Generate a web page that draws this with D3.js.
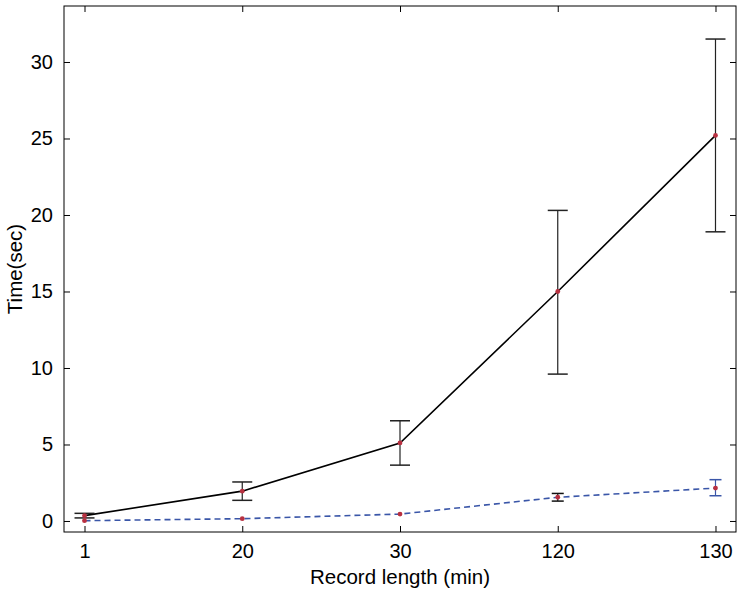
<!DOCTYPE html>
<html>
<head>
<meta charset="utf-8">
<script src="https://cdn.jsdelivr.net/npm/d3@7"></script>
<style>
  body { margin: 0; background: #fff; }
  text { font-family: "Liberation Sans", Arial, sans-serif; }
</style>
</head>
<body>
<script>
// record lengths (x categories)
const categories = ["1", "20", "30", "120", "130"];

// solid black series: mean, lower, upper
const slowMean = [0.35, 1.95, 5.1, 15.0, 25.2];
const slowLow  = [0.2, 1.35, 3.65, 9.6, 18.9];
const slowHigh = [0.5, 2.55, 6.55, 20.3, 31.5];

// dashed blue series
const fastMean = [0.02, 0.15, 0.45, 1.55, 2.15];
const fastLow  = [null, null, null, 1.3, 1.65];
const fastHigh = [null, null, null, 1.8, 2.7];

const yTicks = [0, 5, 10, 15, 20, 25, 30];

const width = 743, height = 593;
const mLeft = 64, mRight = 736, mTop = 6, mBottom = 532;

const svg = d3.select("body").append("svg")
    .attr("width", width)
    .attr("height", height);

const x = d3.scalePoint()
    .domain(categories)
    .range([mLeft, mRight])
    .padding(0.13);

const y = d3.scaleLinear()
    .domain([-0.72, 33.66])
    .range([mBottom, mTop]);

// frame
svg.append("rect")
    .attr("x", mLeft).attr("y", mTop)
    .attr("width", mRight - mLeft).attr("height", mBottom - mTop)
    .attr("fill", "none").attr("stroke", "#000").attr("stroke-width", 1);

// axes with inward ticks
const tickLen = 6;
const xAxis = svg.append("g").attr("transform", `translate(0,${mBottom})`)
    .call(d3.axisBottom(x).tickSize(-tickLen).tickPadding(12));
const xTop = svg.append("g").attr("transform", `translate(0,${mTop})`)
    .call(d3.axisTop(x).tickSize(-tickLen).tickFormat(""));
const yAxis = svg.append("g").attr("transform", `translate(${mLeft},0)`)
    .call(d3.axisLeft(y).tickValues(yTicks).tickSize(-tickLen).tickPadding(11));
const yRight = svg.append("g").attr("transform", `translate(${mRight},0)`)
    .call(d3.axisRight(y).tickValues(yTicks).tickSize(-tickLen).tickFormat(""));

[xAxis, xTop, yAxis, yRight].forEach(g => {
    g.select(".domain").remove();
    g.attr("font-size", 20);
    g.selectAll("line").attr("stroke", "#000");
    g.selectAll("text").attr("fill", "#000")
        .style("font-family", "Liberation Sans, Arial, sans-serif");
});

const line = d3.line()
    .x((d, i) => x(categories[i]))
    .y(d => y(d));

// error bars
const drawErr = function(lo, hi, color, cap) {
    categories.forEach((c, i) => {
        if (lo[i] == null) return;
        const cx = x(c);
        const g = svg.append("g").attr("stroke", color).attr("stroke-width", 1.5);
        g.append("line").attr("x1", cx).attr("x2", cx)
            .attr("y1", y(lo[i])).attr("y2", y(hi[i])).attr("stroke-width", 1.2);
        g.append("line").attr("x1", cx - cap).attr("x2", cx + cap)
            .attr("y1", y(lo[i])).attr("y2", y(lo[i]));
        g.append("line").attr("x1", cx - cap).attr("x2", cx + cap)
            .attr("y1", y(hi[i])).attr("y2", y(hi[i]));
    });
};

svg.append("path").datum(fastMean)
    .attr("d", line)
    .attr("fill", "none")
    .attr("stroke", "#3a56a8")
    .attr("stroke-width", 1.6)
    .attr("stroke-dasharray", "6,4");

svg.append("path").datum(slowMean)
    .attr("d", line)
    .attr("fill", "none")
    .attr("stroke", "#000")
    .attr("stroke-width", 1.6);

drawErr(slowLow, slowHigh, "#222", 10);
drawErr([null, null, null, fastLow[3], null], [null, null, null, fastHigh[3], null], "#111", 6);
drawErr([null, null, null, null, fastLow[4]], [null, null, null, null, fastHigh[4]], "#3a56a8", 6);

// point markers
[slowMean, fastMean].forEach(series => {
    svg.append("g").selectAll("circle")
        .data(series)
        .enter()
        .append("circle")
        .attr("cx", (d, i) => x(categories[i]))
        .attr("cy", d => y(d))
        .attr("r", 2.4)
        .attr("fill", "#b83040");
});

// axis titles
svg.append("text")
    .attr("x", (mLeft + mRight) / 2).attr("y", 584)
    .attr("text-anchor", "middle")
    .attr("font-size", 20.5)
    .text("Record length (min)");

svg.append("text")
    .attr("transform", `translate(22,${(mTop + mBottom) / 2}) rotate(-90)`)
    .attr("text-anchor", "middle")
    .attr("font-size", 20.5)
    .text("Time(sec)");
</script>
</body>
</html>
